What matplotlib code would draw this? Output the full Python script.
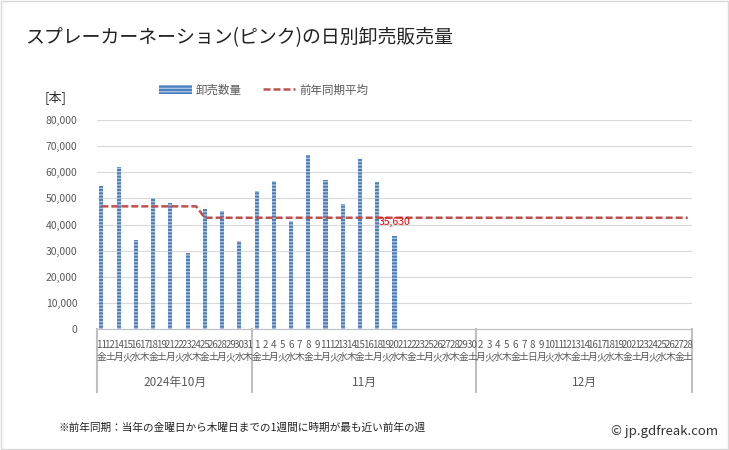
import datetime as dt
import matplotlib
matplotlib.use("Agg")
import matplotlib.pyplot as plt
from matplotlib.patches import Patch, Rectangle
from matplotlib.lines import Line2D

plt.rcParams['font.family'] = ['Noto Sans CJK JP', 'DejaVu Sans']
plt.rcParams['hatch.linewidth'] = 1.0

# category axis: market days by month
oct_days = [11, 12, 14, 15, 16, 17, 18, 19, 21, 22, 23, 24, 25, 26, 28, 29, 30, 31]
nov_days = [1, 2, 4, 5, 6, 7, 8, 9, 11, 12, 13, 14, 15, 16, 18, 19, 20, 21, 22, 23,
            25, 26, 27, 28, 29, 30]
dec_days = [2, 3, 4, 5, 6, 7, 8, 9, 10, 11, 12, 13, 14, 16, 17, 18, 19, 20, 21,
            23, 24, 25, 26, 27, 28]
month_names = ["2024年10月", "11月", "12月"]
month_numbers = [10, 11, 12]
month_days = [oct_days, nov_days, dec_days]

# daily wholesale quantity
sale_dates = ["10/11", "10/14", "10/16", "10/18", "10/21", "10/23", "10/25", "10/28", "10/30",
              "11/1", "11/4", "11/6", "11/8", "11/11", "11/13", "11/15", "11/18", "11/20"]
sales_qty = [54700, 62000, 34100, 50100, 48200, 29100, 45900, 45200, 33700,
             52800, 56600, 41400, 66600, 57000, 47800, 65000, 56200, 35630]

# previous-year average per week (Fri - Thu)
week_starts = ["10/11", "10/18", "10/25", "11/1", "11/8", "11/15", "11/22", "11/29",
               "12/6", "12/13", "12/20", "12/27"]
prev_avg = [46950, 46950, 42600, 42600, 42600, 42600, 42600, 42600,
            42600, 42600, 42600, 42600]

weekday_names = "月火水木金土日"

keys, day_labels, wd_labels, month_bounds = [], [], [], [0]
for m, days in zip(month_numbers, month_days):
    for d in days:
        keys.append(f"{m}/{d}")
        day_labels.append(str(d))
        wd_labels.append(weekday_names[dt.date(2024, m, d).weekday()])
    month_bounds.append(len(keys))

pos = {k: i for i, k in enumerate(keys)}
bar_x = [pos[k] for k in sale_dates]

# weekly value held for every day of its week
week_idx = [pos[k] for k in week_starts] + [len(keys)]
line_y = []
for w in range(len(prev_avg)):
    line_y += [prev_avg[w]] * (week_idx[w + 1] - week_idx[w])

fig = plt.figure(figsize=(7.29, 4.5), dpi=100)
ax = fig.add_axes([97 / 729, 1 - 329.3 / 450, 595 / 729, 209.5 / 450])

ax.bar(bar_x, sales_qty, width=0.47, color='#4a7ebb', edgecolor='#a8c3e8',
       linewidth=0, hatch='-----', zorder=2)
ax.plot(range(len(keys)), line_y, color='#c0504d', lw=1.8,
        dashes=(2.8, 1.2), zorder=3)
ax.annotate(f"{sales_qty[-1]:,}", (bar_x[-1], sales_qty[-1]), xytext=(0, 10),
            textcoords='offset points', ha='center', va='center',
            color='#ff0000', fontsize=7.5, zorder=4)

ax.set_xlim(-0.5, len(keys) - 0.5)
ax.set_ylim(0, 80000)
ax.set_yticks(range(0, 80001, 10000))
ax.set_yticklabels([f"{v:,}" for v in range(0, 80001, 10000)], fontsize=7.5, color='#595959')
ax.tick_params(axis='y', length=0, pad=14)
ax.set_xticks([])
ax.grid(axis='y', color='#d9d9d9', lw=0.8, zorder=0)
for s in ['left', 'right', 'top']:
    ax.spines[s].set_visible(False)
ax.spines['bottom'].set_color('#bfbfbf')

# multi-level category labels
tr = ax.get_xaxis_transform()
for i in range(len(keys)):
    ax.text(i, -0.075, day_labels[i], transform=tr, ha='center', va='center',
            fontsize=7, color='#595959')
    ax.text(i, -0.133, wd_labels[i], transform=tr, ha='center', va='center',
            fontsize=7, color='#595959')
for j, name in enumerate(month_names):
    mid = (month_bounds[j] + month_bounds[j + 1] - 1) / 2
    ax.text(mid, -0.252, name, transform=tr, ha='center', va='center',
            fontsize=8.5, color='#595959')
for b in month_bounds:
    ax.add_line(Line2D([b - 0.5, b - 0.5], [0, -0.30], transform=tr,
                       color='#bfbfbf', lw=1.5, clip_on=False))

fig.text(25 / 729, 1 - 38 / 450, "スプレーカーネーション(ピンク)の日別卸売販売量",
         fontsize=13.6, va='center', ha='left', color='#222222')
fig.text(45 / 729, 1 - 97 / 450, "[本]", fontsize=9.5, va='center', ha='left', color='#333333')

handles = [Patch(facecolor='#4a7ebb', edgecolor='#a8c3e8', hatch='-----', lw=0),
           Line2D([], [], color='#c0504d', lw=1.8, dashes=(2.8, 1.2))]
fig.legend(handles, ["卸売数量", "前年同期平均"], loc='center',
           bbox_to_anchor=(264 / 729, 1 - 90 / 450), ncol=2, frameon=False,
           fontsize=8.3, handlelength=2.8, handletextpad=0.4, columnspacing=1.8,
           labelcolor='#595959')

fig.text(58 / 729, 1 - 428 / 450,
         "※前年同期：当年の金曜日から木曜日までの1週間に時期が最も近い前年の週",
         fontsize=7.7, va='center', ha='left', color='#222222')
fig.text(718 / 729, 1 - 432 / 450, "© jp.gdfreak.com", fontsize=9.5,
         va='center', ha='right', color='#333333')

fig.add_artist(Rectangle((0.001, 0.002), 0.997, 0.996, transform=fig.transFigure,
                         fill=False, edgecolor='#d9d9d9', lw=1))

fig.savefig("out.png", dpi=100)
